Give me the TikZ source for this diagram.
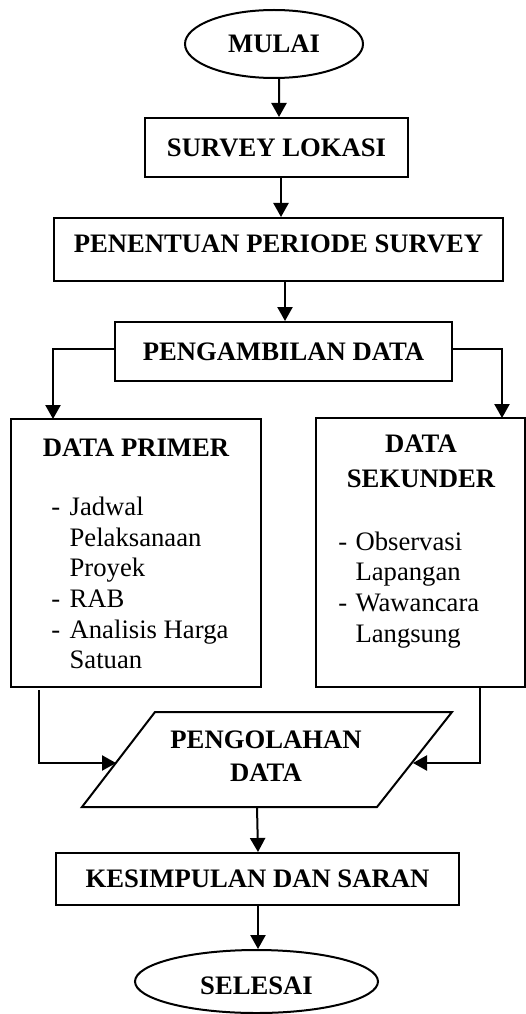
\documentclass[tikz,border=0pt]{standalone}
\usepackage{fontspec}
\setmainfont{Liberation Serif}
\usetikzlibrary{arrows.meta,shapes.geometric}
\newcommand\pxs{0.45pt}
\newcommand\itmA[1]{\makebox[8.2pt][l]{-}#1}
\newcommand\cntA[1]{\hspace*{8.2pt}#1}
\newcommand\itmB[1]{\makebox[7.7pt][l]{-}#1}
\newcommand\cntB[1]{\hspace*{7.7pt}#1}
\begin{document}
\begin{tikzpicture}[x=0.45pt,y=-0.45pt,
  lw/.style={line width=0.9pt},
  box/.style={draw, lw, inner sep=0pt, font=\fontsize{12}{13.8}\selectfont\bfseries},
  term/.style={ellipse, draw, lw, inner sep=0pt, font=\fontsize{12}{13.8}\selectfont\bfseries},
  arr/.style={lw, -{Triangle[length=6.3pt,width=6.8pt]}},
  ttl/.style={inner sep=0pt, anchor=base},
  lst/.style={inner sep=0pt, anchor=base west, font=\fontsize{12}{13.8}\selectfont}]
\useasboundingbox (0,0) rectangle (526,1014);

% main column
\node[term, minimum width=178*\pxs, minimum height=68*\pxs] (m) at (274,44) {MULAI};
\node[box, minimum width=263*\pxs, minimum height=59*\pxs] (s) at (276.5,147.5) {SURVEY LOKASI};
\node[box, minimum width=449*\pxs, minimum height=63*\pxs, text height=8pt, text depth=5pt] (p) at (278.5,249.5) {PENENTUAN PERIODE SURVEY};
\node[box, minimum width=337*\pxs, minimum height=59*\pxs] (g) at (283.5,351.5) {PENGAMBILAN DATA};

% data boxes
\node[draw, lw, inner sep=0pt, minimum width=250*\pxs, minimum height=268*\pxs] (dp) at (136,553) {};
\node[draw, lw, inner sep=0pt, minimum width=209*\pxs, minimum height=269*\pxs] (ds) at (420.5,552.5) {};

\node[ttl, font=\fontsize{12}{13.8}\selectfont\bfseries] (dpt) at (136,456) {DATA PRIMER};
\node[ttl, font=\fontsize{12}{15.75}\selectfont\bfseries] (dst) at (421,452.7)
  {\begin{tabular}[t]{@{}c@{}}DATA\\SEKUNDER\end{tabular}};

\node[lst] (dpl) at (51,515.5) {\begin{tabular}[t]{@{}l@{}}
  \itmA{Jadwal}\\ \cntA{Pelaksanaan}\\ \cntA{Proyek}\\ \itmA{RAB}\\ \itmA{Analisis Harga}\\ \cntA{Satuan}
\end{tabular}};
\node[lst] (dsl) at (338,550) {\begin{tabular}[t]{@{}l@{}}
  \itmB{Observasi}\\ \cntB{Lapangan}\\ \itmB{Wawancara}\\ \cntB{Langsung}
\end{tabular}};

% processing parallelogram
\draw[lw] (82,807) -- (155,712) -- (452,712) -- (377,807) -- cycle;
\node[ttl, font=\fontsize{12}{14.85}\selectfont\bfseries] (pd) at (266,748)
  {\begin{tabular}[t]{@{}c@{}}PENGOLAHAN\\DATA\end{tabular}};
\coordinate (pdL) at (116,763);
\coordinate (pdR) at (413,763);
\coordinate (pdB) at (257,807);

\node[box, minimum width=403*\pxs, minimum height=52*\pxs] (k) at (257.5,879) {KESIMPULAN DAN SARAN};
\node[term, minimum width=243*\pxs, minimum height=63*\pxs, text height=11.6pt, text depth=0pt] (e) at (256.5,981.5) {SELESAI};

% connectors
\draw[arr] ([xshift=5*\pxs]m.south) -- ([xshift=2.5*\pxs]s.north);
\draw[arr] ([xshift=4.5*\pxs]s.south) -- ([xshift=2.5*\pxs]p.north);
\draw[arr] ([xshift=6.5*\pxs]p.south) -- ([xshift=1.5*\pxs]g.north);

\coordinate (dpin) at (53,419);
\coordinate (dsin) at (502,418);
\draw[arr] ([yshift=2.5*\pxs]g.west) -| (dpin);
\draw[arr] ([yshift=2.5*\pxs]g.east) -| (dsin);

\coordinate (dpout) at (39,690);
\coordinate (dsout) at (480,687);
\draw[arr] (dpout) |- (pdL);
\draw[arr] (dsout) |- (pdR);

\draw[arr] (pdB) -- ([xshift=0.5*\pxs]k.north);
\draw[arr] ([xshift=0.5*\pxs]k.south) -- ([xshift=1.5*\pxs]e.north);
\end{tikzpicture}
\end{document}
